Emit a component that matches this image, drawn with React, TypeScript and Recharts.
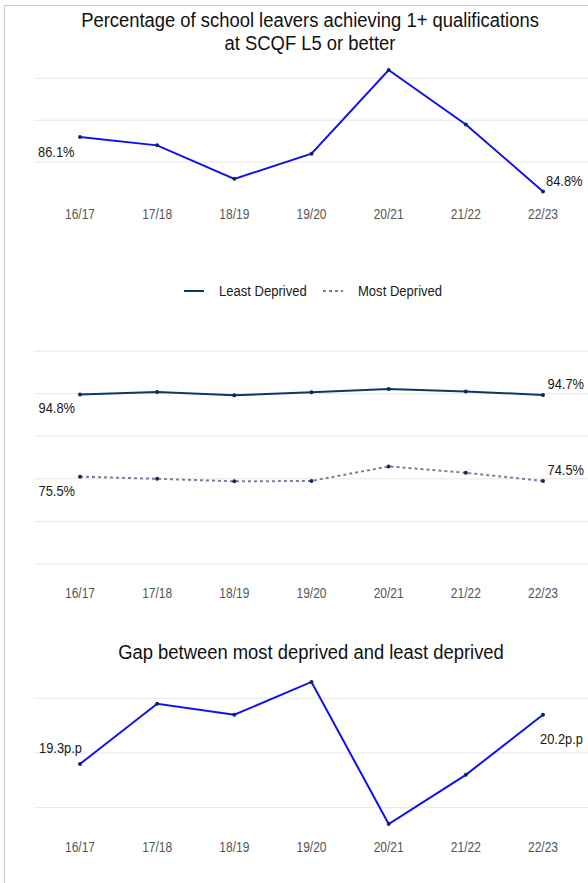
import React from 'react';
import { LineChart, Line, XAxis, YAxis, CartesianGrid, LabelList } from 'recharts';

// School years shared by all three panels
const years = ['16/17', '17/18', '18/19', '19/20', '20/21', '21/22', '22/23'];

// % of leavers with 1+ award at SCQF level 5 or better
const allLeavers = [86.1, 85.9, 85.1, 85.7, 87.7, 86.4, 84.8];
const leastDeprived = [94.8, 95.4, 94.6, 95.3, 96.1, 95.5, 94.7];
const mostDeprived = [75.5, 75.0, 74.4, 74.5, 77.9, 76.4, 74.5];
// gap in percentage points
const gapPoints = [19.3, 20.4, 20.2, 20.8, 18.2, 19.1, 20.2];

// gridline values per panel
const allGrid = [85.5, 86.5, 87.5];
const splitGrid = [55, 65, 75, 85, 95, 105];
const gapGrid = [18.5, 19.5, 20.5];

const allData = years.map((year, i) => ({ year, value: allLeavers[i] }));
const splitData = years.map((year, i) => ({ year, least: leastDeprived[i], most: mostDeprived[i] }));
const gapData = years.map((year, i) => ({ year, value: gapPoints[i] }));

const FONT = '"Liberation Sans", Arial, Helvetica, sans-serif';
const BLUE = '#1111ee';
const NAVY = '#0c3868';
const DOT = '#0a2c55';
const GREY_DASH = '#7d7d9b';
const GRID = '#e6e6e6';
const TEXT = '#1a1a1a';

const splitSeries = [
  { key: 'least', name: 'Least Deprived', color: NAVY, dash: undefined as string | undefined, x: 184 },
  { key: 'most', name: 'Most Deprived', color: GREY_DASH, dash: '3 3', x: 323 },
];

const WIDTH = 588;
const PAD = { left: 46, right: 45 };

/* condensed year labels under each panel */
const yearTick = (offset: number) => (props: any) => {
  const { x, y, payload } = props;
  return (
    <text
      transform={`translate(${x},${y + offset}) scale(0.8,1)`}
      textAnchor="middle"
      fontSize={15}
      fontFamily={FONT}
      fill="#555"
    >
      {payload.value}
    </text>
  );
};

/* value labels only at the first and last year */
const endLabel = (suffix: string, first: [number, number], last: [number, number]) => (props: any) => {
  const { index, value } = props;
  const px = props.x ?? props.viewBox?.x;
  const py = props.y ?? props.viewBox?.y;
  if (index !== 0 && index !== years.length - 1) return null;
  const isFirst = index === 0;
  const [dx, dy] = isFirst ? first : last;
  return (
    <text
      transform={`translate(${px + dx},${py + dy}) scale(0.86,1)`}
      textAnchor={isFirst ? 'end' : 'start'}
      fontSize={15}
      fontFamily={FONT}
      fill={TEXT}
    >
      {Number(value).toFixed(1)}
      {suffix}
    </text>
  );
};

const dotStyle = { r: 2, fill: DOT, stroke: 'none' };

function Legend() {
  return (
    <svg width={WIDTH} height={20} style={{ position: 'absolute', left: 0, top: 281 }}>
      {splitSeries.map((s) => (
        <g key={s.key}>
          <line x1={s.x} y1={10} x2={s.x + 20} y2={10} stroke={s.color} strokeWidth={2} strokeDasharray={s.dash} />
          <text
            transform={`translate(${s.x + 35},15) scale(0.87,1)`}
            fontSize={15}
            fontFamily={FONT}
            fill={TEXT}
          >
            {s.name}
          </text>
        </g>
      ))}
    </svg>
  );
}

const titleStyle: React.CSSProperties = {
  position: 'absolute',
  transform: 'translateX(-50%) scaleX(0.92)',
  textAlign: 'center',
  fontSize: 20,
  lineHeight: '22.7px',
  whiteSpace: 'nowrap',
  color: '#111',
};

export default function App() {
  return (
    <div
      style={{
        position: 'absolute',
        left: 0,
        top: 0,
        width: WIDTH,
        height: 883,
        overflow: 'hidden',
        background: '#fff',
        fontFamily: FONT,
      }}
    >
      {/* card edge */}
      <div
        style={{
          position: 'absolute',
          left: 4,
          top: 5,
          width: 700,
          height: 1000,
          borderLeft: '1px solid #c8c8c8',
          borderTop: '1px solid #c8c8c8',
        }}
      />

      {/* Panel 1: all leavers */}
      <div style={{ ...titleStyle, left: 310, top: 8.9 }}>
        Percentage of school leavers achieving 1+ qualifications
        <br />
        at SCQF L5 or better
      </div>
      <div style={{ position: 'absolute', left: 0, top: 0 }}>
        <LineChart width={WIDTH} height={244} data={allData} margin={{ top: 57.4, right: 0, bottom: 0, left: 34 }}>
          <CartesianGrid vertical={false} stroke={GRID} horizontalValues={allGrid} />
          <XAxis
            dataKey="year"
            padding={PAD}
            axisLine={false}
            tickLine={false}
            tickSize={0}
            tickMargin={0}
            height={40}
            interval={0}
            tick={yearTick(14.7)}
          />
          <YAxis hide domain={[84.5, 88]} ticks={allGrid} allowDataOverflow />
          <Line
            type="linear"
            dataKey="value"
            stroke={BLUE}
            strokeWidth={2}
            dot={dotStyle}
            activeDot={false}
            isAnimationActive={false}
          >
            <LabelList dataKey="value" content={endLabel('%', [-5.5, 20.5], [3, -5])} />
          </Line>
        </LineChart>
      </div>

      {/* Panel 2: least vs most deprived */}
      <Legend />
      <div style={{ position: 'absolute', left: 0, top: 300 }}>
        <LineChart width={WIDTH} height={304} data={splitData} margin={{ top: 51, right: 0, bottom: 0, left: 34 }}>
          <CartesianGrid vertical={false} stroke={GRID} horizontalValues={splitGrid} />
          <XAxis
            dataKey="year"
            padding={PAD}
            axisLine={false}
            tickLine={false}
            tickSize={0}
            tickMargin={0}
            height={40}
            interval={0}
            tick={yearTick(34)}
          />
          <YAxis hide domain={[55, 105]} ticks={splitGrid} allowDataOverflow />
          <Line
            type="linear"
            dataKey="least"
            name="Least Deprived"
            stroke={NAVY}
            strokeWidth={2}
            dot={dotStyle}
            activeDot={false}
            isAnimationActive={false}
          >
            <LabelList dataKey="least" content={endLabel('%', [-5, 18.5], [4.5, -6])} />
          </Line>
          <Line
            type="linear"
            dataKey="most"
            name="Most Deprived"
            stroke={GREY_DASH}
            strokeWidth={2}
            strokeDasharray="3 3"
            dot={dotStyle}
            activeDot={false}
            isAnimationActive={false}
          >
            <LabelList dataKey="most" content={endLabel('%', [-5, 19.5], [4.5, -6])} />
          </Line>
        </LineChart>
      </div>

      {/* Panel 3: gap */}
      <div style={{ ...titleStyle, left: 311, top: 640.6 }}>Gap between most deprived and least deprived</div>
      <div style={{ position: 'absolute', left: 0, top: 640 }}>
        <LineChart width={WIDTH} height={235} data={gapData} margin={{ top: 31, right: 0, bottom: 0, left: 34 }}>
          <CartesianGrid vertical={false} stroke={GRID} horizontalValues={gapGrid} />
          <XAxis
            dataKey="year"
            padding={PAD}
            axisLine={false}
            tickLine={false}
            tickSize={0}
            tickMargin={0}
            height={40}
            interval={0}
            tick={yearTick(17)}
          />
          <YAxis hide domain={[18, 21]} ticks={gapGrid} allowDataOverflow />
          <Line
            type="linear"
            dataKey="value"
            stroke={BLUE}
            strokeWidth={2}
            dot={dotStyle}
            activeDot={false}
            isAnimationActive={false}
          >
            <LabelList dataKey="value" content={endLabel('p.p', [2, -10.5], [-3, 29])} />
          </Line>
        </LineChart>
      </div>
    </div>
  );
}
